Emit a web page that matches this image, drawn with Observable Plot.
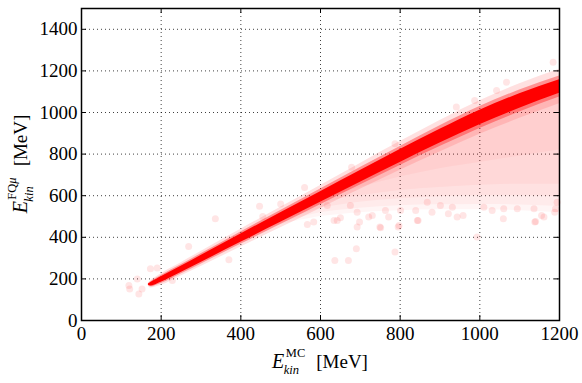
<!DOCTYPE html>
<html>
<head>
<meta charset="utf-8">
<script src="https://cdn.jsdelivr.net/npm/d3@7"></script>
<script src="https://cdn.jsdelivr.net/npm/@observablehq/plot@0.6"></script>
<style>
  html, body { margin: 0; padding: 0; background: #fff; }
  #chart { width: 582px; height: 383px; }
</style>
</head>
<body>
<div id="chart"></div>
<script>
// Tick values
const xTicks = [0, 200, 400, 600, 800, 1000, 1200];
const yTicks = [0, 200, 400, 600, 800, 1000, 1200, 1400];

// Dense main band (E_MC vs E_FQ)
const bandX    = [168, 175, 190, 200, 250, 300, 400, 500, 600, 700, 800, 900, 1000, 1100, 1200];
const bandMid  = [172, 175, 188, 197, 246, 296, 396, 495, 594, 693, 791, 886, 976, 1055, 1125];
const coreHalf = [3, 9, 12, 13, 15, 17, 20, 23, 25, 28, 31, 33, 35, 35, 33];
const softHalf = [5, 13, 17, 19, 22, 25, 30, 34, 38, 42, 46, 50, 53, 53, 51];
const haloHalf = [8, 19, 25, 28, 32, 36, 43, 49, 55, 62, 69, 76, 81, 83, 83];

// Diffuse low-energy tail below the band (nested density levels)
const cloudX    = [480, 520, 560, 600, 650, 700, 800, 900, 1000, 1100, 1200];
const cloudLow1 = [450, 470, 485, 500, 510, 518, 528, 533, 533, 528, 518];
const cloudLow2 = [455, 480, 500, 518, 530, 540, 552, 556, 558, 555, 548];
const cloudLow3 = [460, 490, 515, 538, 555, 568, 585, 595, 600, 600, 595];
const cloudLow4 = [464, 498, 530, 558, 585, 600, 625, 640, 650, 655, 655];
const cloudLow5 = [467, 504, 540, 572, 610, 640, 690, 730, 760, 790, 820];
const cloudHigh = [470, 510, 550, 585, 635, 685, 780, 872, 962, 1040, 1110];

// Isolated outlier events
const dotX = [119, 121, 144, 140, 152, 173, 190, 228, 269, 336, 370, 447, 567, 634, 650, 675, 692, 698, 583, 617,
  642, 692, 721, 730, 751, 771, 763, 797, 801, 843, 839, 868, 880, 901, 931, 943, 993, 1010, 1031, 1060,
  1094, 1136, 1140, 1161, 1190, 1194, 636, 670, 690, 749, 787, 795, 845, 921, 958, 1059, 1138, 1155, 1188,
  941, 987, 1067, 1184, 1042, 787, 678, 560, 500, 455];
const dotY = [168, 152, 128, 200, 152, 249, 253, 192, 356, 489, 292, 549, 462, 481, 494, 553, 449, 473, 473, 553,
  481, 521, 497, 505, 446, 497, 529, 457, 529, 481, 529, 569, 521, 553, 545, 497, 401, 545, 529, 537,
  537, 537, 476, 497, 537, 569, 289, 289, 345, 449, 329, 449, 481, 513, 505, 489, 473, 505, 521,
  1026, 1058, 1146, 1242, 1106, 850, 737, 640, 560, 500];

const band = bandX.map((x, i) => ({x, mid: bandMid[i], core: coreHalf[i], soft: softHalf[i], halo: haloHalf[i]}));
const cloudLows = [cloudLow1, cloudLow2, cloudLow3, cloudLow4, cloudLow5];
const cloudLayers = cloudLows.map(lows => cloudX.map((x, i) => ({x, low: lows[i], high: cloudHigh[i]})));
const dots = dotX.map((x, i) => ({x, y: dotY[i]}));

// Pick a serif face if one is installed, else DejaVu Sans
const ctx = document.createElement("canvas").getContext("2d");
ctx.font = "100px 'Liberation Serif', 'DejaVu Serif', monospace";
const wSerif = ctx.measureText("1400 MeV").width;
ctx.font = "100px monospace";
const wMono = ctx.measureText("1400 MeV").width;
const hasSerif = Math.abs(wSerif - wMono) > 0.5;
const ff = hasSerif ? "'Liberation Serif', 'DejaVu Serif', serif" : "'DejaVu Sans', sans-serif";
const tickFs = hasSerif ? 19 : 17;

const W = 582, H = 383, mL = 81, mR = 23, mT = 8, mB = 63;
const innerH = H - mT - mB, innerW = W - mL - mR, tk = 5;

const svg = Plot.plot({
  width: W, height: H,
  marginLeft: mL, marginRight: mR, marginTop: mT, marginBottom: mB,
  x: {domain: [0, 1200]},
  y: {domain: [0, 1500]},
  style: {fontFamily: ff, fontSize: tickFs + "px", background: "#fff", color: "#000", overflow: "visible"},
  marks: [
    Plot.gridX(xTicks, {stroke: "#000", strokeOpacity: 0.75, strokeDasharray: "1,3"}),
    Plot.gridY(yTicks, {stroke: "#000", strokeOpacity: 0.75, strokeDasharray: "1,3"}),
    ...cloudLayers.map(layer =>
      Plot.areaY(layer, {x: "x", y1: "low", y2: "high", fill: "#ff0000", fillOpacity: 0.04, curve: "monotone-x"})),
    Plot.dot(dots, {x: "x", y: "y", r: 3.5, fill: "#ff0000", fillOpacity: 0.1, stroke: "none"}),
    Plot.areaY(band, {x: "x", y1: d => d.mid - d.halo, y2: d => d.mid + d.halo, fill: "#ff0000", fillOpacity: 0.12, curve: "monotone-x"}),
    Plot.areaY(band, {x: "x", y1: d => d.mid - d.soft, y2: d => d.mid + d.soft, fill: "#ff0000", fillOpacity: 0.35, curve: "monotone-x"}),
    Plot.areaY(band, {x: "x", y1: d => d.mid - d.core, y2: d => d.mid + d.core, fill: "#ff0000", fillOpacity: 1, curve: "monotone-x"}),
    Plot.frame({stroke: "#000", strokeWidth: 1.5}),
    Plot.tickX(xTicks, {x: d => d, stroke: "#000", strokeWidth: 1, insetTop: innerH - tk}),
    Plot.tickX(xTicks, {x: d => d, stroke: "#000", strokeWidth: 1, insetBottom: innerH - tk}),
    Plot.tickY(yTicks, {y: d => d, stroke: "#000", strokeWidth: 1, insetRight: innerW - tk}),
    Plot.tickY(yTicks, {y: d => d, stroke: "#000", strokeWidth: 1, insetLeft: innerW - tk}),
    Plot.axisX(xTicks, {tickSize: 0, tickPadding: 6, label: null, fontSize: tickFs, tickFormat: d => String(d)}),
    Plot.axisY(yTicks, {tickSize: 0, tickPadding: 4, label: null, fontSize: tickFs, tickFormat: d => String(d)})
  ]
});

document.getElementById("chart").appendChild(svg);
const s = d3.select(svg);

// "E_kin^sup   [MeV]" laid out left-to-right with measured widths
function mathLabel(g, sup, supItalic) {
  g.attr("font-family", ff).attr("fill", "#000").attr("text-anchor", "start");
  const e = g.append("text").attr("x", 0).attr("y", 0).attr("font-size", 20).attr("font-style", "italic").text("E");
  const sx = e.node().getComputedTextLength() + 1.5;
  const sp = g.append("text").attr("x", sx).attr("y", -11).attr("font-size", 12.5);
  sp.append("tspan").text(sup);
  if (supItalic) sp.append("tspan").attr("font-style", "italic").text(supItalic);
  const sb = g.append("text").attr("x", sx - 2).attr("y", 6).attr("font-size", 12.5).attr("font-style", "italic").text("kin");
  const end = Math.max(sx + sp.node().getComputedTextLength(), sx - 2 + sb.node().getComputedTextLength());
  const u = g.append("text").attr("x", end + 11).attr("y", 0).attr("font-size", 19).text("[MeV]");
  return end + 11 + u.node().getComputedTextLength();
}

// x axis label, centered under the plot
const gx = s.append("g");
const wx = mathLabel(gx, "MC", "");
gx.attr("transform", `translate(${(mL + W - mR) / 2 - wx / 2},368)`);

// y axis label, rotated and centered along the plot
const gy = s.append("g");
const wy = mathLabel(gy, "FQ", "μ");
gy.attr("transform", `translate(27,${(mT + H - mB) / 2 + wy / 2}) rotate(-90)`);
</script>
</body>
</html>
